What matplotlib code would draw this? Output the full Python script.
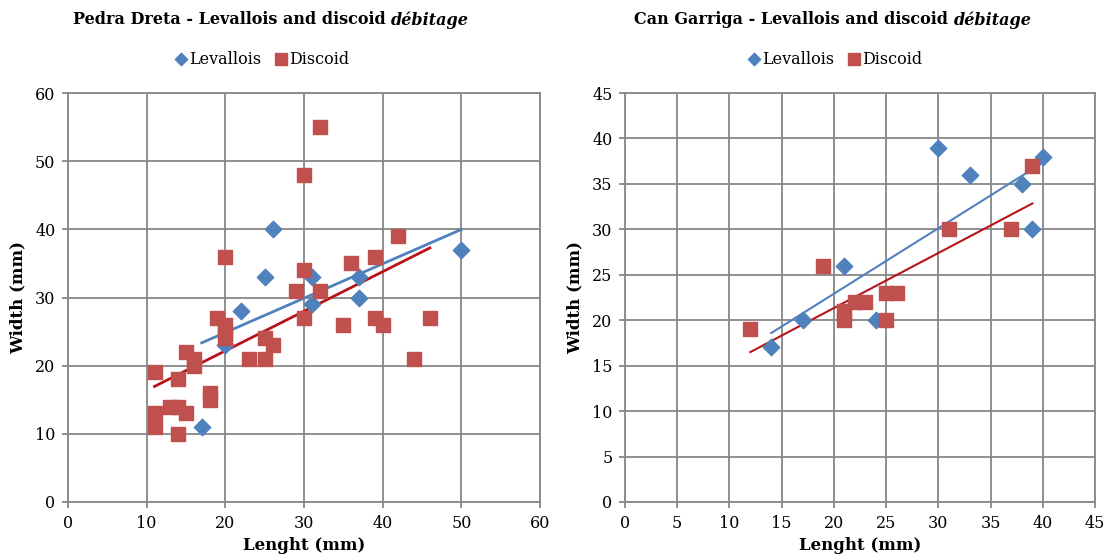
import numpy as np
import matplotlib
matplotlib.use("Agg")
import matplotlib.pyplot as plt

plt.rcParams['font.family'] = 'DejaVu Serif'

# Pedra Dreta
pd_lev_x = [17, 20, 22, 25, 26, 31, 31, 37, 37, 50]
pd_lev_y = [11, 23, 28, 33, 40, 33, 29, 33, 30, 37]
pd_dis_x = [11, 11, 11, 13, 14, 15, 14, 14, 15, 16, 16, 18, 18, 19, 20, 20, 20, 20,
            23, 25, 25, 26, 29, 30, 30, 30, 32, 32, 35, 36, 39, 39, 40, 42, 44, 46]
pd_dis_y = [19, 13, 11, 14, 14, 13, 10, 18, 22, 21, 20, 16, 15, 27, 26, 25, 24, 36,
            21, 21, 24, 23, 31, 34, 27, 48, 55, 31, 26, 35, 36, 27, 26, 39, 21, 27]

# Can Garriga
cg_lev_x = [14, 17, 21, 24, 30, 33, 38, 39, 40]
cg_lev_y = [17, 20, 26, 20, 39, 36, 35, 30, 38]
cg_dis_x = [12, 19, 21, 21, 22, 23, 25, 26, 25, 31, 37, 39]
cg_dis_y = [19, 26, 21, 20, 22, 22, 23, 23, 20, 30, 30, 37]

blue = '#4F81BD'
red = '#C0504D'
red_line = '#B81418'
grid_c = '#878787'

fig = plt.figure(figsize=(11.07, 5.55), dpi=100)
ax1 = fig.add_axes([68/1107, 1-502/555, 472/1107, 409/555])
ax2 = fig.add_axes([625/1107, 1-502/555, 470/1107, 409/555])


def trend(ax, x, y, color, lw):
    x = np.array(x, float)
    k, b = np.polyfit(x, y, 1)
    xs = np.array([x.min(), x.max()])
    ax.plot(xs, k*xs + b, color=color, lw=lw, zorder=2)


def setup(ax, xmax, xstep, ymax, ystep):
    ax.set_xlim(0, xmax)
    ax.set_ylim(0, ymax)
    ax.set_xticks(np.arange(0, xmax+1, xstep))
    ax.set_yticks(np.arange(0, ymax+1, ystep))
    ax.grid(True, color=grid_c, lw=1.3, zorder=0)
    ax.set_axisbelow(True)
    for s in ax.spines.values():
        s.set_color(grid_c)
        s.set_linewidth(1.3)
    ax.tick_params(colors=grid_c, length=4, width=1.3, labelcolor='black',
                   labelsize=11.5, pad=5)
    ax.set_xlabel('Lenght (mm)', fontsize=12, fontweight='bold', labelpad=4)
    ax.set_ylabel('Width (mm)', fontsize=12, fontweight='bold', labelpad=6)


for ax, lx, ly, dx, dy in [(ax1, pd_lev_x, pd_lev_y, pd_dis_x, pd_dis_y),
                           (ax2, cg_lev_x, cg_lev_y, cg_dis_x, cg_dis_y)]:
    ax.scatter(lx, ly, marker='D', s=70, color=blue, zorder=3, label='Levallois')
    ax.scatter(dx, dy, marker='s', s=115, color=red, zorder=3, label='Discoid')

trend(ax1, pd_lev_x, pd_lev_y, blue, 2)
trend(ax1, pd_dis_x, pd_dis_y, red_line, 2)
trend(ax2, cg_lev_x, cg_lev_y, blue, 1.5)
trend(ax2, cg_dis_x, cg_dis_y, red_line, 1.5)

setup(ax1, 60, 10, 60, 10)
setup(ax2, 45, 5, 45, 5)

# legends above the plots
for ax, cx in [(ax1, 262/1107), (ax2, 835/1107)]:
    h, l = ax.get_legend_handles_labels()
    fig.legend(h, l, loc='center', bbox_to_anchor=(cx, 1-59/555), ncol=2,
               frameon=False, fontsize=11.5, handlelength=0.7, handletextpad=0.15,
               columnspacing=0.9, markerscale=0.75)

# titles: plain bold part + bold italic "débitage"
fig.canvas.draw()
r = fig.canvas.get_renderer()
for name, cx in [('Pedra Dreta - Levallois and discoid ', 271), ('Can Garriga - Levallois and discoid ', 833)]:
    t1 = fig.text(0, 1-20/555, name, fontsize=11.5, fontweight='bold', va='center')
    t2 = fig.text(0, 1-20/555, 'débitage', fontsize=11.5, fontweight='bold',
                  style='italic', va='center')
    w1 = t1.get_window_extent(r).width
    w2 = t2.get_window_extent(r).width
    x0 = cx - (w1 + w2) / 2
    t1.set_x(x0/1107)
    t2.set_x((x0 + w1)/1107)

fig.savefig('out.png', dpi=100)
